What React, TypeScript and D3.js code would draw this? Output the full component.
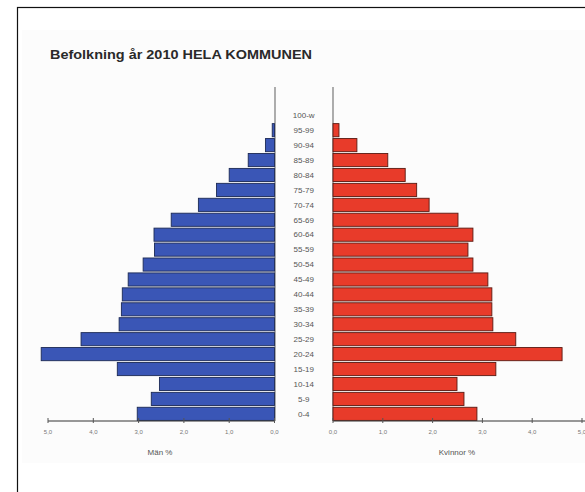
import { useEffect } from 'react';
import * as d3 from 'd3';

// Age groups, bottom to top
const ageGroups = [
  '0-4', '5-9', '10-14', '15-19', '20-24', '25-29', '30-34', '35-39', '40-44',
  '45-49', '50-54', '55-59', '60-64', '65-69', '70-74', '75-79', '80-84',
  '85-89', '90-94', '95-99', '100-w',
];

// Share of population (%) per age group
const menValues = [
  3.03, 2.72, 2.54, 3.47, 5.15, 4.27, 3.43, 3.38, 3.36,
  3.23, 2.9, 2.65, 2.66, 2.28, 1.68, 1.28, 1.0,
  0.58, 0.2, 0.05, 0,
];
const womenValues = [
  2.89, 2.63, 2.49, 3.27, 4.6, 3.67, 3.21, 3.19, 3.19,
  3.11, 2.81, 2.71, 2.81, 2.51, 1.93, 1.68, 1.45,
  1.1, 0.48, 0.12, 0,
];

const ticks = [0, 1, 2, 3, 4, 5];

const title = 'Befolkning år 2010 HELA KOMMUNEN';
const menLabel = 'Män %';
const womenLabel = 'Kvinnor %';

const W = 585;
const H = 492;
const FONT = 'Arial, "Liberation Sans", sans-serif';

export default function App() {
  useEffect(() => {
    document.body.style.margin = '0';
  }, []);

  const axisY = 421;
  const topY = axisY - ageGroups.length * 14.9;

  const y = d3.scaleBand<string>()
    .domain([...ageGroups].reverse())
    .range([topY, axisY])
    .paddingInner(0.12)
    .paddingOuter(0.04);

  const xMen = d3.scaleLinear().domain([0, 5]).range([274.5, 48]);
  const xWomen = d3.scaleLinear().domain([0, 5]).range([333, 582]);

  const fmt = (d: number) => d3.format('.1f')(d).replace('.', ',');
  const centerX = (274.5 + 333) / 2;

  return (
    <svg width={W} height={H} style={{ display: 'block' }} fontFamily={FONT}>
      <rect x={0} y={0} width={W} height={H} fill="#fff" />
      <rect x={22} y={30} width={W - 22} height={433} fill="#fcfcfc" />
      <rect x={17.5} y={7.5} width={W + 10} height={H + 10} fill="none" stroke="#111" strokeWidth={1.2} />

      <text x={50} y={59} fontSize={12} fontWeight="bold" fill="#2a2a2a"
        textLength={262} lengthAdjust="spacingAndGlyphs">{title}</text>

      {/* center lines */}
      <line x1={275} x2={275} y1={87} y2={axisY} stroke="#777" strokeWidth={1.2} />
      <line x1={333} x2={333} y1={87} y2={axisY} stroke="#777" strokeWidth={1.2} />

      {/* men bars */}
      {ageGroups.map((g, i) => menValues[i] > 0 && (
        <rect key={'m' + g}
          x={xMen(menValues[i])} y={y(g)!}
          width={xMen(0) - xMen(menValues[i])} height={y.bandwidth()}
          fill="#3a56b6" stroke="#1c2a55" strokeWidth={0.9} />
      ))}

      {/* women bars */}
      {ageGroups.map((g, i) => womenValues[i] > 0 && (
        <rect key={'w' + g}
          x={xWomen(0)} y={y(g)!}
          width={xWomen(womenValues[i]) - xWomen(0)} height={y.bandwidth()}
          fill="#e83b2a" stroke="#5a1a12" strokeWidth={0.9} />
      ))}

      {/* age labels */}
      {ageGroups.map(g => (
        <text key={'l' + g} x={centerX} y={y(g)! + y.bandwidth() / 2} dy="0.35em"
          textAnchor="middle" fontSize={8} fill="#555">{g}</text>
      ))}

      {/* axes */}
      <line x1={xMen(5)} x2={xMen(0)} y1={axisY} y2={axisY} stroke="#333" strokeWidth={1} />
      <line x1={xWomen(0)} x2={W} y1={axisY} y2={axisY} stroke="#333" strokeWidth={1} />
      {ticks.map(t => (
        <g key={'tm' + t}>
          <line x1={xMen(t)} x2={xMen(t)} y1={axisY - 3} y2={axisY + 2} stroke="#555" />
          <text x={xMen(t)} y={axisY + 13} textAnchor="middle" fontSize={6} fill="#777">{fmt(t)}</text>
          <line x1={xWomen(t)} x2={xWomen(t)} y1={axisY - 3} y2={axisY + 2} stroke="#555" />
          <text x={xWomen(t)} y={axisY + 13} textAnchor="middle" fontSize={6} fill="#777">{fmt(t)}</text>
        </g>
      ))}

      <text x={160} y={455} textAnchor="middle" fontSize={8} fill="#555">{menLabel}</text>
      <text x={457} y={455} textAnchor="middle" fontSize={8} fill="#555">{womenLabel}</text>
    </svg>
  );
}
